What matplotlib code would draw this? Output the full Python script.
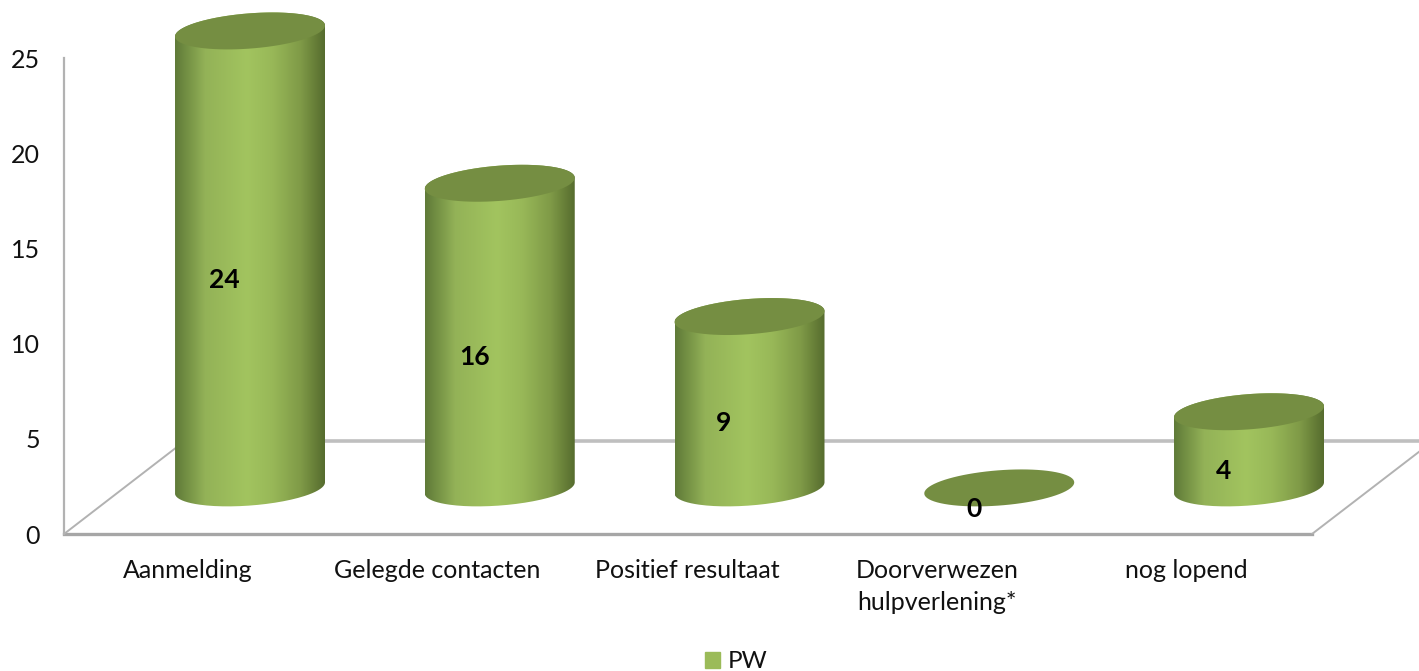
import numpy as np
import matplotlib
matplotlib.use('Agg')
import matplotlib.pyplot as plt
from matplotlib.colors import LinearSegmentedColormap
from matplotlib.patches import Patch, PathPatch, Polygon
from matplotlib.path import Path

categories = ['Aanmelding', 'Gelegde contacten', 'Positief resultaat',
              'Doorverwezen\nhulpverlening*', 'nog lopend']
values = [24, 16, 9, 0, 4]
y_ticks = [0, 5, 10, 15, 20, 25]
series_name = 'PW'

W, H = 1419, 671
LEFT, RIGHT = 64, 1419
Y0, Y25 = 534, 58
STEP = 249.75   # pixels between categories
FIRST = 250     # pixel x of the first cylinder

# cylinder shape, in axis units
RX = 75 / STEP
RY = 17.6 / 19
TILT = 5.5 / 19
BASE = 46 / 19   # how far the floor runs back behind the front edge

TOP_COLOR = '#758e42'
LINE = '#b2b2b2'
shade = LinearSegmentedColormap.from_list('cyl', [
    (0.0, '#5f7a38'), (0.2, '#93b257'), (0.48, '#a2c45f'), (0.65, '#98b858'),
    (0.84, '#7f9a47'), (1.0, '#566c2e')])


def ellipse(cx, cy, start, stop, n=80):
    t = np.linspace(start, stop, n)
    return np.column_stack([cx + RX * np.cos(t),
                            cy + RY * np.sin(t) + TILT * np.cos(t)])


def draw_cylinder(ax, x, value):
    low = BASE
    high = BASE + value
    if value > 0:
        # side wall: back over the top rim, round the lower front
        outline = np.vstack([ellipse(x, high, 0, np.pi),
                             ellipse(x, low, np.pi, 2 * np.pi)])
        body = PathPatch(Path(np.vstack([outline, outline[0]])),
                         fc='none', ec='none', transform=ax.transData, clip_on=False)
        ax.add_patch(body)
        grad = np.linspace(0, 1, 256).reshape(1, -1)
        im = ax.imshow(grad, cmap=shade, aspect='auto', zorder=3,
                       extent=[x - RX, x + RX, low - RY - TILT, high + RY + TILT])
        # the tallest cylinder rises above the axes box
        im.set_clip_box(ax.figure.bbox)
        im.set_clip_path(body)
    ax.add_patch(Polygon(ellipse(x, high, 0, 2 * np.pi), closed=True,
                         fc=TOP_COLOR, ec='none', zorder=4, clip_on=False))
    ax.text(x - 0.102, BASE + value / 2 - 1.1, str(value), ha='center', va='center',
            fontsize=19, fontweight='bold', color='black', zorder=5)


plt.rcParams['font.family'] = ['Lato', 'DejaVu Sans']

fig = plt.figure(figsize=(W / 100, H / 100), dpi=100)
ax = fig.add_axes([LEFT / W, 1 - Y0 / H, (RIGHT - LEFT) / W, (Y0 - Y25) / H])

for name in ['top', 'right', 'bottom']:
    ax.spines[name].set_visible(False)
ax.spines['left'].set_color(LINE)
ax.spines['left'].set_linewidth(1.6)

xmin = (LEFT - FIRST) / STEP
xmax = (RIGHT - FIRST) / STEP

# floor of the 3d box
front_end = (1312 - FIRST) / STEP
back_start = (185 - FIRST) / STEP
ax.plot([xmin, front_end], [0, 0], color='#a6a6a6', lw=2.4, zorder=2, clip_on=False)
ax.plot([back_start, xmax], [93 / 19, 93 / 19], color='#bfbfbf', lw=2.6, zorder=2)
ax.plot([xmin, back_start], [0, 93 / 19], color=LINE, lw=1.4, zorder=2)
ax.plot([front_end, (1419 - FIRST) / STEP], [0, 82 / 19], color=LINE, lw=1.4, zorder=2)

for i, v in enumerate(values):
    draw_cylinder(ax, i, v)

ax.set_xlim(xmin, xmax)
ax.set_ylim(0, 25)
ax.set_yticks(y_ticks)
ax.set_xticks([i - 0.25 for i in range(len(categories))])
ax.set_xticklabels(categories, linespacing=1.5, va='top')
ax.tick_params(axis='both', length=0, labelsize=18, labelcolor='#111111')
ax.tick_params(axis='x', pad=18)
ax.tick_params(axis='y', pad=17.5)

fig.legend(handles=[Patch(color='#9bbb59', label=series_name)], loc='lower left',
           bbox_to_anchor=(705 / W, -0.002), frameon=False, fontsize=17.5,
           borderpad=0, borderaxespad=0,
           handlelength=0.62, handleheight=0.62, handletextpad=0.3,
           labelcolor='#111111')

fig.savefig('out.png', dpi=100)
